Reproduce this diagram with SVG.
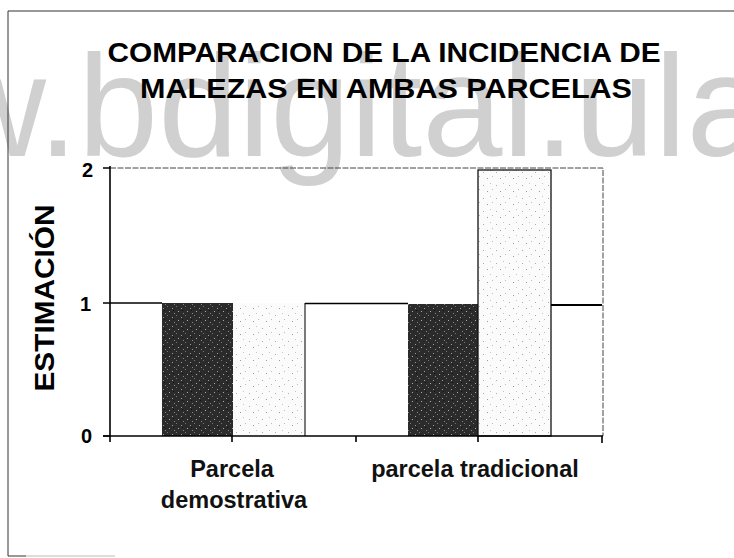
<svg xmlns="http://www.w3.org/2000/svg" width="734" height="558" viewBox="0 0 734 558">
  <defs>
    <pattern id="darkDots" width="9" height="9" patternUnits="userSpaceOnUse">
      <rect width="9" height="9" fill="#2b2b2b"/>
      <rect x="1" y="2" width="1" height="1" fill="#9a9a9a"/>
      <rect x="5" y="0" width="1" height="1" fill="#777"/>
      <rect x="7" y="5" width="1" height="1" fill="#aaa"/>
      <rect x="3" y="7" width="1" height="1" fill="#888"/>
      <rect x="2" y="4" width="1" height="1" fill="#111"/>
    </pattern>
    <pattern id="lightDots" width="13" height="13" patternUnits="userSpaceOnUse">
      <rect width="13" height="13" fill="#fbfbfb"/>
      <rect x="2" y="3" width="1" height="1" fill="#aaa"/>
      <rect x="9" y="1" width="1" height="1" fill="#c4c4c4"/>
      <rect x="6" y="9" width="1" height="1" fill="#999"/>
      <rect x="11" y="7" width="1" height="1" fill="#bbb"/>
    </pattern>
    <style>
      .title { font-family: "Liberation Sans", Arial, sans-serif; font-weight: bold; font-size: 28px; fill: #000; }
      .tick { font-family: "Liberation Sans", Arial, sans-serif; font-weight: bold; font-size: 20px; fill: #000; }
      .cat { font-family: "Liberation Sans", Arial, sans-serif; font-weight: bold; font-size: 23.5px; fill: #111; }
      .wm { font-family: "Liberation Sans", Arial, sans-serif; font-size: 144px; fill: #d0d0d0; }
      .ax { stroke: #000; stroke-width: 1.6; fill: none; }
      .thin { stroke: #333; stroke-width: 1; fill: none; }
    </style>
  </defs>

  <rect width="734" height="558" fill="#ffffff"/>

  <g id="watermark">
    <text class="wm" x="-58" y="156">w.bdigital.ula</text>
  </g>

  <g id="frame">
    <path d="M734 11 H8 V556 H26" class="thin" stroke-width="1.4"/>
    <path d="M26 556 H115" stroke="#bbb" stroke-width="1"/>
  </g>

  <g id="title">
    <text class="title" x="384" y="62" text-anchor="middle" textLength="553" lengthAdjust="spacingAndGlyphs">COMPARACION DE LA INCIDENCIA DE</text>
    <text class="title" x="386" y="98" text-anchor="middle" textLength="492" lengthAdjust="spacingAndGlyphs">MALEZAS EN AMBAS PARCELAS</text>
  </g>

  <g id="y-axis-title">
    <text class="title" font-size="24" transform="translate(54 298) rotate(-90)" text-anchor="middle" textLength="187" lengthAdjust="spacingAndGlyphs">ESTIMACIÓN</text>
  </g>

  <g id="bars">
    <rect id="bar-demo-dark" x="162" y="303" width="71" height="133" fill="url(#darkDots)"/>
    <rect id="bar-demo-light" x="233" y="303" width="72" height="133" fill="url(#lightDots)"/>
    <rect id="bar-trad-dark" x="408" y="304" width="70" height="132" fill="url(#darkDots)"/>
    <rect id="bar-trad-light" x="478" y="170" width="73" height="266" fill="url(#lightDots)" stroke="#111" stroke-width="1.3"/>
    <path id="bar-trad-white" d="M551 305 H602" stroke="#000" stroke-width="1.8"/>
    <path d="M305 303 V436" stroke="#333" stroke-width="1.3"/>
  </g>

  <g id="connectors">
    <path d="M110 168 H603 V436" stroke="#444" stroke-width="1" stroke-dasharray="6 1.5" fill="none"/>
    <path d="M103 303 H162" stroke="#000" stroke-width="1.6"/>
    <path d="M305 303.5 H408" stroke="#000" stroke-width="1.6"/>
    <path d="M110 166 V442" class="ax"/>
    <path d="M103 436 H603" class="ax"/>
    <path d="M103 168 H110 M103 436 H110" class="ax"/>
    <path d="M232 436 V442 M356 436 V442 M478 436 V442 M602 436 V443" class="ax"/>
  </g>

  <g id="tick-labels">
    <text class="tick" x="93" y="177" text-anchor="end">2</text>
    <text class="tick" x="91" y="311" text-anchor="end">1</text>
    <text class="tick" x="92" y="443" text-anchor="end">0</text>
  </g>

  <g id="category-labels">
    <text class="cat" x="232" y="477" text-anchor="middle">Parcela</text>
    <text class="cat" x="234" y="508" text-anchor="middle">demostrativa</text>
    <text class="cat" x="475" y="477" text-anchor="middle">parcela tradicional</text>
  </g>
</svg>
